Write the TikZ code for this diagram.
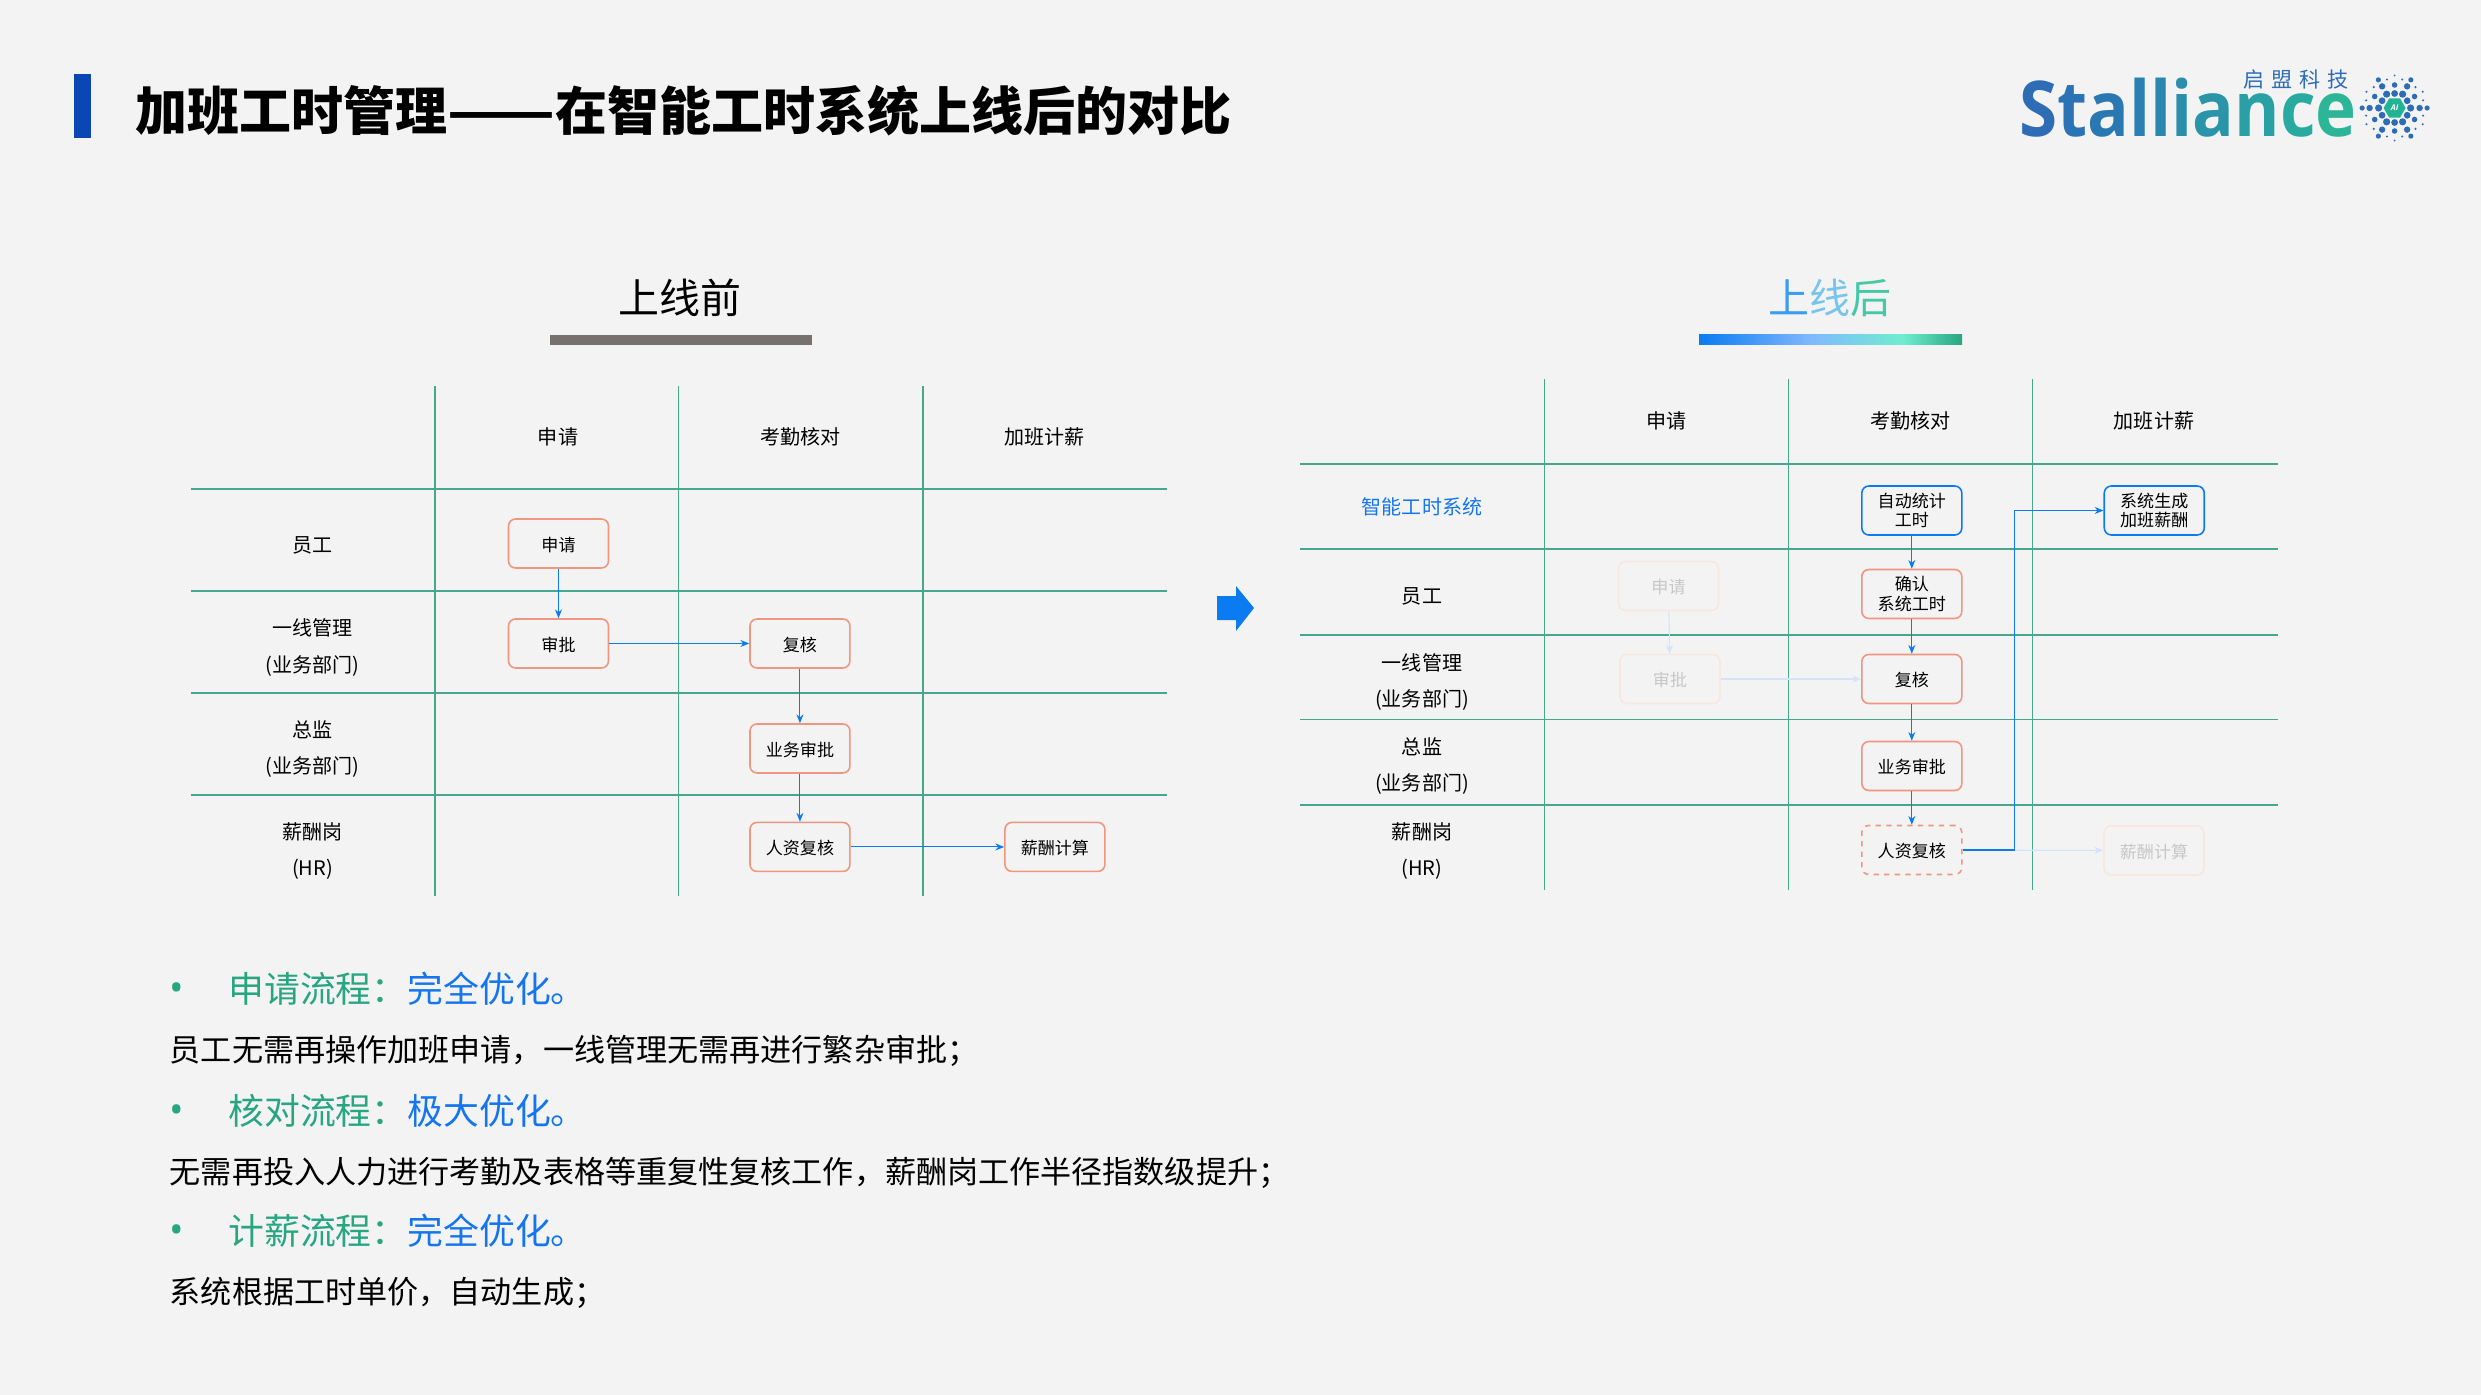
\documentclass[tikz,border=0pt]{standalone}
\usepackage{fontspec}
\usepackage{graphicx}
\setmainfont{Noto Sans CJK SC}
\newfontfamily\logolatin{Open Sans}
\newfontfamily\logocn[LetterSpace=33]{Noto Sans CJK SC}
\usetikzlibrary{arrows.meta,shapes.geometric}
\definecolor{pagegray}{HTML}{F3F3F3}
\definecolor{gridgreen}{HTML}{45A78B}
\definecolor{boxred}{HTML}{F09580}
\definecolor{flowblue}{HTML}{0A7BF0}
\definecolor{headgreen}{HTML}{27A680}
\definecolor{headblue}{HTML}{1475EE}
\definecolor{fadeline}{HTML}{D3E4F8}
\definecolor{fadebox}{HTML}{F8E6E1}
\definecolor{logoblue}{HTML}{2E6DB5}
\definecolor{titlebar}{HTML}{0A47B5}
\definecolor{beforebar}{HTML}{767170}
\tikzset{
    gridline/.style={gridgreen, line width=1.1pt},
    gridcol/.style={gridgreen, line width=0.8pt},
    cell/.style={align=center, inner sep=0pt, font=\fontsize{11.4}{20.5}\selectfont},
    stepbox/.style={draw=boxred, fill=pagegray, rounded corners=4pt, line width=0.9pt, minimum width=2cm, minimum height=0.98cm, inner sep=0pt, align=center, text height=9.5pt, text depth=0.7pt, font=\fontsize{9.7}{11.2}\selectfont},
    twoline/.style={text height={}, text depth={}},
    sysbox/.style={stepbox, draw=flowblue, twoline},
    fadedbox/.style={stepbox, draw=fadebox, text=black!22},
    flow/.style={flowblue, line width=0.6pt, -{Stealth[length=5pt, width=4pt]}},
    fadedflow/.style={flow, fadeline},
    bulletdot/.style={inner sep=0pt, yshift=-2pt, text=headgreen, font=\fontsize{22}{24}\logolatin},
    bullettext/.style={anchor=west, inner sep=0pt, font=\fontsize{20.4}{24}\selectfont},
    bodytext/.style={anchor=west, inner sep=0pt, yshift=-0.8pt, font=\fontsize{17.7}{20}\selectfont}
}
\begin{document}
\begin{tikzpicture}[x=0.02cm, y=-0.02cm, node distance=2cm]
    \fill[pagegray] (0,0) rectangle (2481,1395);
    \fill[titlebar] (74,74) rectangle (91,138);
    \node[anchor=west, inner sep=0pt, font=\fontsize{29.6}{32}\selectfont\bfseries] (title) at (135,111) {加班工时管理\scalebox{1.21}[1]{——}在智能工时系统上线后的对比};

    \node[anchor=west, inner sep=0pt, xscale=0.9, font=\fontsize{43.8}{48}\logolatin\bfseries] (logo) at (2019,108) {\textcolor[HTML]{2E6DB5}{S}\textcolor[HTML]{2B73B5}{t}\textcolor[HTML]{2A78B2}{a}\textcolor[HTML]{2A80B0}{l}\textcolor[HTML]{2A88AE}{l}\textcolor[HTML]{2A8EAC}{i}\textcolor[HTML]{2A95A9}{a}\textcolor[HTML]{28A0A5}{n}\textcolor[HTML]{28AAA0}{c}\textcolor[HTML]{2CB596}{e}};
    \node[anchor=west, inner sep=0pt, logoblue, font=\fontsize{12}{14}\logocn] (logocn) at (2243,80) {启盟科技};
    \foreach \a in {0,60,...,300} {
        \fill[logoblue] (2394.6,108) ++(\a:16 and -16) circle (3.6);
        \fill[logoblue] (2394.6,108) ++(\a:25 and -25) circle (3.2);
        \fill[logoblue] (2394.6,108) ++(\a:32.5 and -32.5) circle (2.6);
        \fill[logoblue] (2394.6,108) ++(\a+30:14.5 and -14.5) circle (3.4);
        \fill[logoblue] (2394.6,108) ++(\a+30:23 and -23) circle (2.8);
        \fill[logoblue] (2394.6,108) ++(\a+30:32.5 and -32.5) circle (1.1);
        \fill[logoblue] (2394.6,108) ++(\a+15:29.5 and -29.5) circle (1.2);
        \fill[logoblue] (2394.6,108) ++(\a+45:29.5 and -29.5) circle (1.2);
    }
    \node[regular polygon, regular polygon sides=6, fill=headgreen!85!cyan, text=white, minimum size=0.44cm, inner sep=0pt, font=\fontsize{4.5}{5}\logolatin\bfseries\itshape] (logoai) at (2394.6,108) {AI};

    \node[inner sep=0pt, font=\fontsize{23.3}{26}\selectfont] (before) at (680,298) {上线前};
    \fill[beforebar] (550,335) rectangle (812,345);
    \node[inner sep=0pt, font=\fontsize{23.3}{26}\selectfont] (after) at (1830,298) {\textcolor[HTML]{3A9CF2}{上}\textcolor[HTML]{78C4EC}{线}\textcolor[HTML]{45C8A5}{后}};
    \shade[left color=flowblue, right color={rgb,255:red,128;green,184;blue,255}] (1699,335) rectangle (1810,345);
    \shade[left color={rgb,255:red,128;green,184;blue,255}, right color={rgb,255:red,112;green,237;blue,208}] (1810,335) rectangle (1903,345);
    \shade[left color={rgb,255:red,112;green,237;blue,208}, right color=headgreen] (1903,335) rectangle (1962,345);

    \foreach \y in {489,591,693,795} {
        \draw[gridline] (191,\y) -- (1167,\y);
    }
    \foreach \x in {435,678.5,923} {
        \draw[gridcol] (\x,386.5) -- (\x,896);
    }

    \node[cell] (ha1) at (558,436.5) {申请};
    \node[cell] (ha2) at (800.7,436.5) {考勤核对};
    \node[cell] (ha3) at (1044.5,436.5) {加班计薪};
    \node[cell] (ra1) at (312.6,545.5) {员工};
    \node[cell] (ra2) at (312.6,647.5) {一线管理\\(业务部门)};
    \node[cell] (ra3) at (312.6,749.5) {总监\\(业务部门)};
    \node[cell] (ra4) at (312.6,851.5) {薪酬岗\\(HR)};

    \node[stepbox] (applya) at (558.5,543.5) {申请};
    \node[stepbox] (approvea) [below of=applya] {审批};
    \node[stepbox] (reviewa) [right of=approvea, node distance=4.83cm] {复核};
    \node[stepbox] (busa) [below of=reviewa, node distance=2.1cm] {业务审批};
    \node[stepbox] (hra) [below of=busa, node distance=1.97cm] {人资复核};
    \node[stepbox] (paya) [right of=hra, node distance=5.1cm] {薪酬计算};

    \draw[flow] (applya) -- (approvea);
    \draw[flow] (approvea) -- (reviewa);
    \draw[flow] (reviewa) -- (busa);
    \draw[flow] (busa) -- (hra);
    \draw[flow] (hra) -- (paya);

    \fill[flowblue] (1217,596) -- (1236,596) -- (1236,586) -- (1254,608) -- (1236,631) -- (1236,620) -- (1217,620) -- cycle;

    \foreach \y in {464.4,549.4,634.6,719.5,804.6} {
        \draw[gridline] (1300,\y) -- (2277.5,\y);
    }
    \foreach \x in {1544.4,1788.6,2032.7} {
        \draw[gridcol] (\x,379) -- (\x,890);
    }

    \node[cell] (hb1) at (1666.5,420.5) {申请};
    \node[cell] (hb2) at (1910.6,420.5) {考勤核对};
    \node[cell] (hb3) at (2154,420.5) {加班计薪};
    \node[cell, text=headblue] (rb0) at (1422,507) {智能工时系统};
    \node[cell] (rb1) at (1422,596.6) {员工};
    \node[cell] (rb2) at (1422,682) {一线管理\\(业务部门)};
    \node[cell] (rb3) at (1422,766.5) {总监\\(业务部门)};
    \node[cell] (rb4) at (1422,851.5) {薪酬岗\\(HR)};

    \node[sysbox] (autob) at (1911.8,510.5) {自动统计\\工时};
    \node[sysbox] (genb) [right of=autob, node distance=4.85cm] {系统生成\\加班薪酬};
    \node[stepbox, twoline] (confirmb) at (1911.8,594) {确认\\系统工时};
    \node[stepbox] (reviewb) at (1911.8,679) {复核};
    \node[stepbox] (busb) at (1911.8,766) {业务审批};
    \node[stepbox, dashed] (hrb) at (1911.8,850) {人资复核};
    \node[fadedbox] (applyb) at (1668.5,586) {申请};
    \node[fadedbox] (approveb) at (1670,679) {审批};
    \node[fadedbox] (payb) at (2154,850.5) {薪酬计算};

    \draw[fadedflow] (applyb) -- (approveb);
    \draw[fadedflow] (approveb) -- (reviewb);
    \draw[fadedflow] (hrb) -- (payb);
    \draw[flow] (autob) -- (confirmb);
    \draw[flow] (confirmb) -- (reviewb);
    \draw[flow] (reviewb) -- (busb);
    \draw[flow] (busb) -- (hrb);
    \coordinate (bend) at (2014.5,850);
    \draw[flow] (hrb) -- (bend) |- (genb);

    \node[bulletdot] (dot1) at (177,989) {•};
    \node[bullettext] (item1) at (228,989) {\textcolor{headgreen}{申请流程：}\textcolor{headblue}{完全优化。}};
    \node[bodytext] (body1) at (169.5,1049) {员工无需再操作加班申请，一线管理无需再进行繁杂审批；};
    \node[bulletdot] (dot2) at (177,1110.7) {•};
    \node[bullettext] (item2) at (228,1110.7) {\textcolor{headgreen}{核对流程：}\textcolor{headblue}{极大优化。}};
    \node[bodytext] (body2) at (169.5,1171.7) {无需再投入人力进行考勤及表格等重复性复核工作，薪酬岗工作半径指数级提升；};
    \node[bulletdot] (dot3) at (177,1230.7) {•};
    \node[bullettext] (item3) at (228,1230.7) {\textcolor{headgreen}{计薪流程：}\textcolor{headblue}{完全优化。}};
    \node[bodytext] (body3) at (169.5,1291.7) {系统根据工时单价，自动生成；};
\end{tikzpicture}
\end{document}
